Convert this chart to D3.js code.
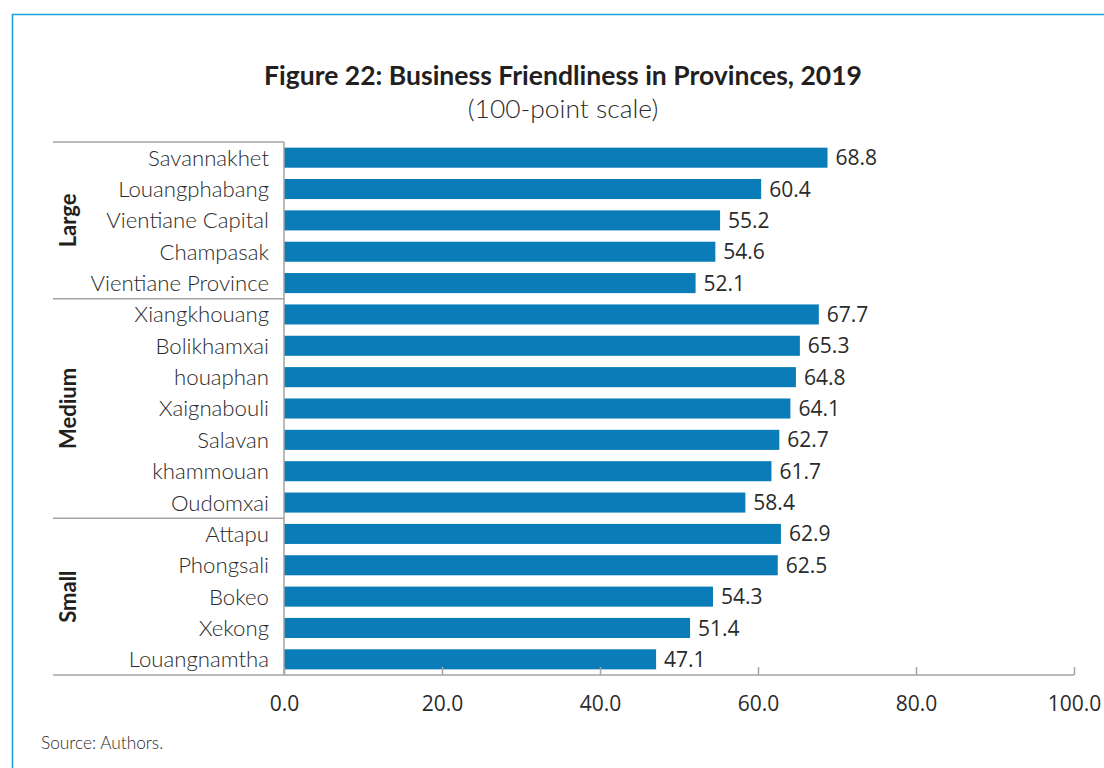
<!DOCTYPE html>
<html>
<head>
<meta charset="utf-8">
<script src="https://cdn.jsdelivr.net/npm/d3@7"></script>
<style>
  html, body { margin: 0; padding: 0; background: #fff; }
  svg { display: block; }
</style>
</head>
<body>
<svg id="chart" width="1104" height="768"></svg>
<script>
// Provinces, grouped by size, with their business friendliness scores (2019)
const provinces = [
  "Savannakhet", "Louangphabang", "Vientiane Capital", "Champasak", "Vientiane Province",
  "Xiangkhouang", "Bolikhamxai", "houaphan", "Xaignabouli", "Salavan", "khammouan", "Oudomxai",
  "Attapu", "Phongsali", "Bokeo", "Xekong", "Louangnamtha"
];
const scores = [
  68.8, 60.4, 55.2, 54.6, 52.1,
  67.7, 65.3, 64.8, 64.1, 62.7, 61.7, 58.4,
  62.9, 62.5, 54.3, 51.4, 47.1
];
const groupNames = ["Large", "Medium", "Small"];
const groupSizes = [5, 7, 5];
const xTicks = [0, 20, 40, 60, 80, 100];

const titleText = "Figure 22: Business Friendliness in Provinces, 2019";
const subtitleText = "(100-point scale)";
const sourceText = "Source: Authors.";

const svg = d3.select("#chart");
const textColor = "#2b2b2b";
const ruleColor = "#a3a3a3";
const barColor = "#0a7db9";
const labelFont = "Lato, 'Open Sans', sans-serif";
const numberFont = "'Open Sans', 'Noto Sans', sans-serif";

const plot = { left: 284, right: 1074, top: 142, bottom: 675, ruleLeft: 53 };

const x = d3.scaleLinear().domain([0, 100]).range([plot.left, plot.right]);
const y = d3.scaleBand()
  .domain(provinces)
  .range([plot.top, plot.bottom])
  .paddingInner(0.36)
  .paddingOuter(0.18);
const step = y.step();

// Outer frame (top and left edges)
svg.append("path")
  .attr("d", `M12.5,${768}V14.5H1104`)
  .attr("fill", "none")
  .attr("stroke", "#1ba1dc")
  .attr("stroke-width", 1.6);

// Title and subtitle
svg.append("text")
  .attr("x", 563).attr("y", 85)
  .attr("text-anchor", "middle")
  .attr("font-family", labelFont)
  .attr("font-weight", 700)
  .attr("font-size", 26)
  .attr("fill", "#231f20")
  .attr("textLength", 598)
  .attr("lengthAdjust", "spacingAndGlyphs")
  .text(titleText);

svg.append("text")
  .attr("x", 563).attr("y", 118)
  .attr("text-anchor", "middle")
  .attr("font-family", labelFont)
  .attr("font-weight", 300)
  .attr("font-size", 26.4)
  .attr("fill", textColor)
  .text(subtitleText);

// Bars
svg.append("g")
  .selectAll("rect")
  .data(provinces)
  .join("rect")
  .attr("x", x(0))
  .attr("y", d => y(d))
  .attr("width", (d, i) => x(scores[i]) - x(0))
  .attr("height", y.bandwidth())
  .attr("fill", barColor);

// Value labels
svg.append("g")
  .selectAll("text")
  .data(provinces)
  .join("text")
  .attr("x", (d, i) => x(scores[i]) + 8)
  .attr("y", d => y(d) + y.bandwidth() / 2)
  .attr("dy", "0.36em")
  .attr("font-family", numberFont)
  .attr("font-size", 21)
  .attr("fill", textColor)
  .text((d, i) => scores[i].toFixed(1));

// Category labels
svg.append("g")
  .selectAll("text")
  .data(provinces)
  .join("text")
  .attr("x", plot.left - 15)
  .attr("y", d => y(d) + y.bandwidth() / 2)
  .attr("dy", "0.36em")
  .attr("text-anchor", "end")
  .attr("font-family", labelFont)
  .attr("font-weight", 300)
  .attr("font-size", 22.2)
  .attr("fill", textColor)
  .text(d => d);

// Group separators and group labels
const rules = svg.append("g").attr("stroke", ruleColor).attr("stroke-width", 1.5);
let start = 0;
const boundaries = [0];
groupSizes.forEach(n => { start += n; boundaries.push(start); });
const boundaryY = k => plot.top + k * step;

boundaries.slice(0, -1).forEach(k => {
  rules.append("line")
    .attr("x1", plot.ruleLeft).attr("x2", plot.left)
    .attr("y1", boundaryY(k)).attr("y2", boundaryY(k));
});

groupNames.forEach((g, i) => {
  const cy = (boundaryY(boundaries[i]) + boundaryY(boundaries[i + 1])) / 2;
  svg.append("text")
    .attr("transform", `translate(68,${cy}) rotate(-90)`)
    .attr("text-anchor", "middle")
    .attr("dy", "0.36em")
    .attr("font-family", labelFont)
    .attr("font-weight", 700)
    .attr("font-size", 22)
    .attr("fill", "#231f20")
    .text(g);
});

// Vertical category axis line
rules.append("line")
  .attr("x1", plot.left).attr("x2", plot.left)
  .attr("y1", plot.top).attr("y2", plot.bottom);

// Value axis along the bottom, ticks pointing up
const xAxis = d3.axisBottom(x)
  .tickValues(xTicks)
  .tickSize(-8)
  .tickPadding(21)
  .tickFormat(d3.format(".1f"));

const axisG = svg.append("g")
  .attr("transform", `translate(0,${plot.bottom})`)
  .call(xAxis);
axisG.select(".domain").remove();
axisG.selectAll(".tick line").attr("stroke", ruleColor).attr("stroke-width", 1.5);
axisG.selectAll(".tick text")
  .attr("font-family", numberFont)
  .attr("font-size", 21)
  .attr("fill", textColor);
axisG.append("line")
  .attr("x1", plot.ruleLeft).attr("x2", plot.right)
  .attr("y1", 0).attr("y2", 0)
  .attr("stroke", ruleColor)
  .attr("stroke-width", 1.5);

// Source note
svg.append("text")
  .attr("x", 41).attr("y", 749)
  .attr("font-family", labelFont)
  .attr("font-weight", 300)
  .attr("font-size", 17.3)
  .attr("fill", textColor)
  .text(sourceText);
</script>
</body>
</html>
